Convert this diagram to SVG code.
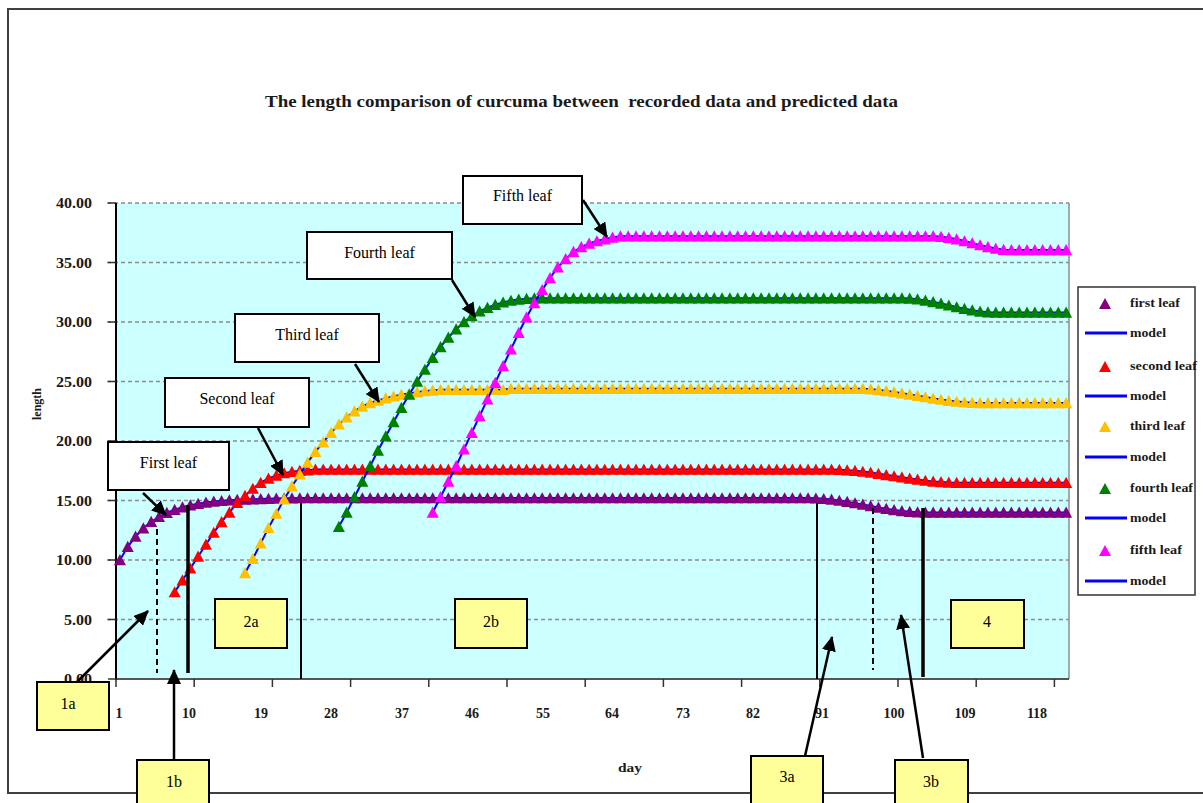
<svg xmlns="http://www.w3.org/2000/svg" xmlns:xlink="http://www.w3.org/1999/xlink" width="1203" height="803" viewBox="0 0 1203 803">
<style>
text{font-family:"Liberation Serif","Times New Roman",serif;fill:#1a1a1a}
.ax{font-size:14px;font-weight:bold}
.lg{font-size:12px;font-weight:bold}
.cl{font-size:16px;text-anchor:middle;fill:#000}
.grid{stroke:#8c8c8c;stroke-width:1.5;stroke-dasharray:4 3}
.model{fill:none;stroke:#0000ff;stroke-width:2}
.m1{fill:none;stroke:none;marker-start:url(#t1);marker-mid:url(#t1);marker-end:url(#t1)}
.m2{fill:none;stroke:none;marker-start:url(#t2);marker-mid:url(#t2);marker-end:url(#t2)}
.m3{fill:none;stroke:none;marker-start:url(#t3);marker-mid:url(#t3);marker-end:url(#t3)}
.m4{fill:none;stroke:none;marker-start:url(#t4);marker-mid:url(#t4);marker-end:url(#t4)}
.m5{fill:none;stroke:none;marker-start:url(#t5);marker-mid:url(#t5);marker-end:url(#t5)}
.wbox{fill:#fff;stroke:#000;stroke-width:2}
.ybox{fill:#ffff99;stroke:#000;stroke-width:2}
.arrow{stroke:#000;stroke-width:2.5;fill:none;marker-end:url(#arr)}
.vl{stroke:#000;fill:none}
</style>
<defs>
<marker id="arr" markerUnits="userSpaceOnUse" viewBox="0 0 15 14" refX="14" refY="7" markerWidth="15" markerHeight="14" orient="auto"><path d="M0,0 L15,7 L0,14 Z" fill="#000"/></marker>
<marker id="t1" markerUnits="userSpaceOnUse" markerWidth="1" markerHeight="1" refX="0" refY="0" orient="0" overflow="visible"><path d="M-0.77,-0.44 L0.77,-0.44 L0,0.5 Z" fill="#800080"/></marker>
<marker id="t2" markerUnits="userSpaceOnUse" markerWidth="1" markerHeight="1" refX="0" refY="0" orient="0" overflow="visible"><path d="M-0.77,-0.44 L0.77,-0.44 L0,0.5 Z" fill="#ff0000"/></marker>
<marker id="t3" markerUnits="userSpaceOnUse" markerWidth="1" markerHeight="1" refX="0" refY="0" orient="0" overflow="visible"><path d="M-0.77,-0.44 L0.77,-0.44 L0,0.5 Z" fill="#ffc000"/></marker>
<marker id="t4" markerUnits="userSpaceOnUse" markerWidth="1" markerHeight="1" refX="0" refY="0" orient="0" overflow="visible"><path d="M-0.77,-0.44 L0.77,-0.44 L0,0.5 Z" fill="#008000"/></marker>
<marker id="t5" markerUnits="userSpaceOnUse" markerWidth="1" markerHeight="1" refX="0" refY="0" orient="0" overflow="visible"><path d="M-0.77,-0.44 L0.77,-0.44 L0,0.5 Z" fill="#ff00ff"/></marker>
<polyline id="d1" vector-effect="non-scaling-stroke" points="1,10 2,11.11 3,11.98 4,12.67 5,13.21 6,13.63 7,13.97 8,14.23 9,14.44 10,14.6 11,14.73 12,14.83 13,14.91 14,14.97 15,15.02 16,15.06 17,15.09 18,15.11 19,15.13 20,15.15 21,15.17 22,15.18 23,15.19 24,15.2 25,15.2 26,15.2 27,15.2 28,15.2 29,15.2 30,15.2 31,15.2 32,15.2 33,15.2 34,15.2 35,15.2 36,15.2 37,15.2 38,15.2 39,15.2 40,15.2 41,15.2 42,15.2 43,15.2 44,15.2 45,15.2 46,15.2 47,15.2 48,15.2 49,15.2 50,15.2 51,15.2 52,15.2 53,15.2 54,15.2 55,15.2 56,15.2 57,15.2 58,15.2 59,15.2 60,15.2 61,15.2 62,15.2 63,15.2 64,15.2 65,15.2 66,15.2 67,15.2 68,15.2 69,15.2 70,15.2 71,15.2 72,15.2 73,15.2 74,15.2 75,15.2 76,15.2 77,15.2 78,15.2 79,15.2 80,15.2 81,15.2 82,15.2 83,15.2 84,15.2 85,15.2 86,15.2 87,15.2 88,15.2 89,15.2 90,15.18 91,15.14 92,15.08 93,14.99 94,14.89 95,14.78 96,14.66 97,14.54 98,14.42 99,14.31 100,14.21 101,14.12 102,14.06 103,14.02 104,14 105,14 106,14 107,14 108,14 109,14 110,14 111,14 112,14 113,14 114,14 115,14 116,14 117,14 118,14 119,14 120,14 121,14 122,14"/>
<polyline id="d2" vector-effect="non-scaling-stroke" points="8,7.3 9,8.3 10,9.3 11,10.3 12,11.3 13,12.3 14,13.2 15,14 16,14.8 17,15.4 18,16 19,16.5 20,16.85 21,17.1 22,17.3 23,17.42 24,17.5 25,17.55 26,17.6 27,17.6 28,17.6 29,17.6 30,17.6 31,17.6 32,17.6 33,17.6 34,17.6 35,17.6 36,17.6 37,17.6 38,17.6 39,17.6 40,17.6 41,17.6 42,17.6 43,17.6 44,17.6 45,17.6 46,17.6 47,17.6 48,17.6 49,17.6 50,17.6 51,17.6 52,17.6 53,17.6 54,17.6 55,17.6 56,17.6 57,17.6 58,17.6 59,17.6 60,17.6 61,17.6 62,17.6 63,17.6 64,17.6 65,17.6 66,17.6 67,17.6 68,17.6 69,17.6 70,17.6 71,17.6 72,17.6 73,17.6 74,17.6 75,17.6 76,17.6 77,17.6 78,17.6 79,17.6 80,17.6 81,17.6 82,17.6 83,17.6 84,17.6 85,17.6 86,17.6 87,17.6 88,17.6 89,17.6 90,17.6 91,17.6 92,17.6 93,17.59 94,17.55 95,17.5 96,17.43 97,17.35 98,17.25 99,17.15 100,17.05 101,16.95 102,16.85 103,16.76 104,16.67 105,16.6 106,16.55 107,16.51 108,16.5 109,16.5 110,16.5 111,16.5 112,16.5 113,16.5 114,16.5 115,16.5 116,16.5 117,16.5 118,16.5 119,16.5 120,16.5 121,16.5 122,16.5"/>
<polyline id="d3" vector-effect="non-scaling-stroke" points="17,8.9 18,10.1 19,11.4 20,12.7 21,13.9 22,15.1 23,16.2 24,17.2 25,18.2 26,19.1 27,19.9 28,20.7 29,21.4 30,22 31,22.5 32,22.9 33,23.2 34,23.4 35,23.6 36,23.75 37,23.9 38,24 39,24.1 40,24.2 41,24.25 42,24.3 43,24.3 44,24.3 45,24.3 46,24.3 47,24.3 48,24.3 49,24.3 50,24.3 51,24.4 52,24.4 53,24.4 54,24.4 55,24.4 56,24.4 57,24.4 58,24.4 59,24.4 60,24.4 61,24.4 62,24.4 63,24.4 64,24.4 65,24.4 66,24.4 67,24.4 68,24.4 69,24.4 70,24.4 71,24.4 72,24.4 73,24.4 74,24.4 75,24.4 76,24.4 77,24.4 78,24.4 79,24.4 80,24.4 81,24.4 82,24.4 83,24.4 84,24.4 85,24.4 86,24.4 87,24.4 88,24.4 89,24.4 90,24.4 91,24.4 92,24.4 93,24.4 94,24.4 95,24.4 96,24.39 97,24.35 98,24.29 99,24.21 100,24.12 101,24.02 102,23.91 103,23.8 104,23.69 105,23.58 106,23.48 107,23.39 108,23.31 109,23.25 110,23.21 111,23.2 112,23.2 113,23.2 114,23.2 115,23.2 116,23.2 117,23.2 118,23.2 119,23.2 120,23.2 121,23.2 122,23.2"/>
<polyline id="d4" vector-effect="non-scaling-stroke" points="29,12.8 30,14 31,15.3 32,16.6 33,17.9 34,19.2 35,20.4 36,21.6 37,22.8 38,23.9 39,25 40,26 41,27 42,27.9 43,28.7 44,29.4 45,30 46,30.5 47,30.9 48,31.2 49,31.45 50,31.65 51,31.8 52,31.9 53,31.95 54,32 55,32 56,32 57,32 58,32 59,32 60,32 61,32 62,32 63,32 64,32 65,32 66,32 67,32 68,32 69,32 70,32 71,32 72,32 73,32 74,32 75,32 76,32 77,32 78,32 79,32 80,32 81,32 82,32 83,32 84,32 85,32 86,32 87,32 88,32 89,32 90,32 91,32 92,32 93,32 94,32 95,32 96,32 97,32 98,32 99,32 100,32 101,32 102,31.98 103,31.91 104,31.81 105,31.69 106,31.55 107,31.4 108,31.25 109,31.11 110,30.99 111,30.89 112,30.82 113,30.8 114,30.8 115,30.8 116,30.8 117,30.8 118,30.8 119,30.8 120,30.8 121,30.8 122,30.8"/>
<polyline id="d5" vector-effect="non-scaling-stroke" points="41,14 42,15.3 43,16.6 44,17.9 45,19.3 46,20.7 47,22.1 48,23.5 49,24.9 50,26.3 51,27.7 52,29.1 53,30.4 54,31.6 55,32.7 56,33.7 57,34.6 58,35.3 59,35.9 60,36.3 61,36.6 62,36.8 63,36.95 64,37.1 65,37.2 66,37.2 67,37.2 68,37.2 69,37.2 70,37.2 71,37.2 72,37.2 73,37.2 74,37.2 75,37.2 76,37.2 77,37.2 78,37.2 79,37.2 80,37.2 81,37.2 82,37.2 83,37.2 84,37.2 85,37.2 86,37.2 87,37.2 88,37.2 89,37.2 90,37.2 91,37.2 92,37.2 93,37.2 94,37.2 95,37.2 96,37.2 97,37.2 98,37.2 99,37.2 100,37.2 101,37.2 102,37.2 103,37.2 104,37.2 105,37.2 106,37.17 107,37.08 108,36.95 109,36.8 110,36.63 111,36.46 112,36.3 113,36.17 114,36.08 115,36.05 116,36.05 117,36.05 118,36.05 119,36.05 120,36.05 121,36.05 122,36.05"/>
</defs>
<rect width="1203" height="803" fill="#fff"/>
<path d="M1203,9 H8 V793 H1203" fill="none" stroke="#404040" stroke-width="2"/>
<g id="chart-title"><text x="581.5" y="107" text-anchor="middle" font-size="17" font-weight="bold" textLength="633" lengthAdjust="spacingAndGlyphs" style="white-space:pre">The length comparison of curcuma between  recorded data and predicted data</text></g>
<g id="plot-area">
<rect x="116" y="203" width="953" height="476" fill="#ccffff"/>
<g class="grid">
<line x1="107" y1="203" x2="1069" y2="203"/>
<line x1="107" y1="262.5" x2="1069" y2="262.5"/>
<line x1="107" y1="322" x2="1069" y2="322"/>
<line x1="107" y1="381.5" x2="1069" y2="381.5"/>
<line x1="107" y1="441" x2="1069" y2="441"/>
<line x1="107" y1="500.5" x2="1069" y2="500.5"/>
<line x1="107" y1="560" x2="1069" y2="560"/>
<line x1="107" y1="619.5" x2="1069" y2="619.5"/>
</g>
<line x1="1069" y1="203" x2="1069" y2="679" stroke="#8c8c8c" stroke-width="1.5"/>
<line x1="116" y1="679" x2="1069" y2="679" stroke="#555" stroke-width="2"/>
<line x1="116" y1="203" x2="116" y2="680" stroke="#000" stroke-width="2"/>
<path d="M108,203H116M108,262.5H116M108,322H116M108,381.5H116M108,441H116M108,500.5H116M108,560H116M108,619.5H116M108,679H116" stroke="#333" stroke-width="1.5"/>
<path d="M116,679V687M194.2,679V687M272.4,679V687M350.6,679V687M428.8,679V687M507,679V687M585.2,679V687M663.4,679V687M741.6,679V687M819.8,679V687M898,679V687M976.2,679V687M1054.4,679V687" stroke="#333" stroke-width="1.5"/>
</g>
<g id="y-labels" class="ax" text-anchor="end">
<text x="92" y="208" textLength="36" lengthAdjust="spacingAndGlyphs">40.00</text>
<text x="92" y="267.5" textLength="36" lengthAdjust="spacingAndGlyphs">35.00</text>
<text x="92" y="327" textLength="36" lengthAdjust="spacingAndGlyphs">30.00</text>
<text x="92" y="386.5" textLength="36" lengthAdjust="spacingAndGlyphs">25.00</text>
<text x="92" y="446" textLength="36" lengthAdjust="spacingAndGlyphs">20.00</text>
<text x="92" y="505.5" textLength="36" lengthAdjust="spacingAndGlyphs">15.00</text>
<text x="92" y="565" textLength="36" lengthAdjust="spacingAndGlyphs">10.00</text>
<text x="92" y="624.5" textLength="28" lengthAdjust="spacingAndGlyphs">5.00</text>
<text x="92" y="684" textLength="28" lengthAdjust="spacingAndGlyphs">0.00</text>
</g>
<g id="x-labels" class="ax" text-anchor="middle">
<text x="119" y="718">1</text>
<text x="189" y="718">10</text>
<text x="261" y="718">19</text>
<text x="331" y="718">28</text>
<text x="402" y="718">37</text>
<text x="472" y="718">46</text>
<text x="543" y="718">55</text>
<text x="612" y="718">64</text>
<text x="683" y="718">73</text>
<text x="753" y="718">82</text>
<text x="822" y="718">91</text>
<text x="894" y="718">100</text>
<text x="965" y="718">109</text>
<text x="1037" y="718">118</text>
</g>
<g id="axis-titles" class="ax">
<text x="0" y="0" transform="translate(41,404) rotate(-90)" text-anchor="middle" font-size="13" textLength="32" lengthAdjust="spacingAndGlyphs">length</text>
<text x="630" y="772" text-anchor="middle" font-size="13" textLength="24" lengthAdjust="spacingAndGlyphs">day</text>
</g>
<g id="series" transform="translate(112.1,679) scale(7.82,-11.9)">
<use href="#d1" class="model"/><use href="#d1" class="m1"/>
<use href="#d2" class="model"/><use href="#d2" class="m2"/>
<use href="#d3" class="model"/><use href="#d3" class="m3"/>
<use href="#d4" class="model"/><use href="#d4" class="m4"/>
<use href="#d5" class="model"/><use href="#d5" class="m5"/>
</g>
<g id="legend">
<rect x="1078" y="287" width="117" height="308" fill="#fff" stroke="#333" stroke-width="1.5"/>
<g class="lg">
<path d="M1099,309 L1111,309 L1105,298 Z" fill="#800080"/><text x="1130" y="307" textLength="50" lengthAdjust="spacingAndGlyphs">first leaf</text>
<line x1="1085" y1="333" x2="1127" y2="333" stroke="#0000ff" stroke-width="3"/><text x="1130" y="337" textLength="36" lengthAdjust="spacingAndGlyphs">model</text>
<path d="M1099,372 L1111,372 L1105,361 Z" fill="#ff0000"/><text x="1130" y="370" textLength="67" lengthAdjust="spacingAndGlyphs">second leaf</text>
<line x1="1085" y1="396" x2="1127" y2="396" stroke="#0000ff" stroke-width="3"/><text x="1130" y="400" textLength="36" lengthAdjust="spacingAndGlyphs">model</text>
<path d="M1099,432 L1111,432 L1105,421 Z" fill="#ffc000"/><text x="1130" y="430" textLength="55" lengthAdjust="spacingAndGlyphs">third leaf</text>
<line x1="1085" y1="457" x2="1127" y2="457" stroke="#0000ff" stroke-width="3"/><text x="1130" y="461" textLength="36" lengthAdjust="spacingAndGlyphs">model</text>
<path d="M1099,494 L1111,494 L1105,483 Z" fill="#008000"/><text x="1130" y="492" textLength="63" lengthAdjust="spacingAndGlyphs">fourth leaf</text>
<line x1="1085" y1="518" x2="1127" y2="518" stroke="#0000ff" stroke-width="3"/><text x="1130" y="522" textLength="36" lengthAdjust="spacingAndGlyphs">model</text>
<path d="M1099,556 L1111,556 L1105,545 Z" fill="#ff00ff"/><text x="1130" y="554" textLength="52" lengthAdjust="spacingAndGlyphs">fifth leaf</text>
<line x1="1085" y1="581" x2="1127" y2="581" stroke="#0000ff" stroke-width="3"/><text x="1130" y="585" textLength="36" lengthAdjust="spacingAndGlyphs">model</text>
</g>
</g>
<g id="stage-lines">
<line class="vl" x1="157" y1="529" x2="157" y2="673" stroke-width="2" stroke-dasharray="6 4"/>
<line class="vl" x1="188" y1="505" x2="188" y2="673" stroke-width="3.5"/>
<line class="vl" x1="301" y1="503" x2="301" y2="679" stroke-width="2"/>
<line class="vl" x1="817" y1="503" x2="817" y2="679" stroke-width="2"/>
<line class="vl" x1="873" y1="508" x2="873" y2="670" stroke-width="2" stroke-dasharray="6 4"/>
<line class="vl" x1="923" y1="508" x2="923" y2="677" stroke-width="3.5"/>
</g>
<g id="connectors">
<line class="arrow" x1="143" y1="493" x2="166" y2="515"/>
<line class="arrow" x1="258" y1="428" x2="283" y2="475"/>
<line class="arrow" x1="355" y1="364" x2="379" y2="402"/>
<line class="arrow" x1="452" y1="280" x2="475" y2="317"/>
<line class="arrow" x1="583" y1="200" x2="607" y2="237"/>
<line class="arrow" x1="77" y1="682" x2="148" y2="611"/>
<line class="arrow" x1="174" y1="760" x2="174" y2="670"/>
<line class="arrow" x1="805" y1="756" x2="832" y2="637"/>
<line class="arrow" x1="923" y1="758" x2="901" y2="615"/>
</g>
<g id="label-first"><rect class="wbox" x="108" y="442" width="121" height="48"/><text class="cl" x="168.5" y="468">First leaf</text></g>
<g id="label-second"><rect class="wbox" x="165" y="378" width="144" height="49"/><text class="cl" x="237" y="404">Second leaf</text></g>
<g id="label-third"><rect class="wbox" x="235" y="314" width="144" height="48"/><text class="cl" x="307" y="340">Third leaf</text></g>
<g id="label-fourth"><rect class="wbox" x="307" y="232" width="145" height="47"/><text class="cl" x="379.5" y="258">Fourth leaf</text></g>
<g id="label-fifth"><rect class="wbox" x="463" y="176" width="119" height="48"/><text class="cl" x="522.5" y="201">Fifth leaf</text></g>
<g id="box-1a"><rect class="ybox" x="37" y="682" width="72" height="48"/><text class="cl" x="68" y="709">1a</text></g>
<g id="box-1b"><rect class="ybox" x="137" y="760" width="72" height="52"/><text class="cl" x="174" y="787">1b</text></g>
<g id="box-2a"><rect class="ybox" x="215" y="599" width="72" height="49"/><text class="cl" x="251" y="627">2a</text></g>
<g id="box-2b"><rect class="ybox" x="455" y="599" width="72" height="49"/><text class="cl" x="491" y="627">2b</text></g>
<g id="box-3a"><rect class="ybox" x="751" y="756" width="72" height="56"/><text class="cl" x="787" y="782">3a</text></g>
<g id="box-3b"><rect class="ybox" x="895" y="760" width="73" height="52"/><text class="cl" x="931" y="787">3b</text></g>
<g id="box-4"><rect class="ybox" x="951" y="600" width="73" height="48"/><text class="cl" x="987" y="627">4</text></g>
</svg>
